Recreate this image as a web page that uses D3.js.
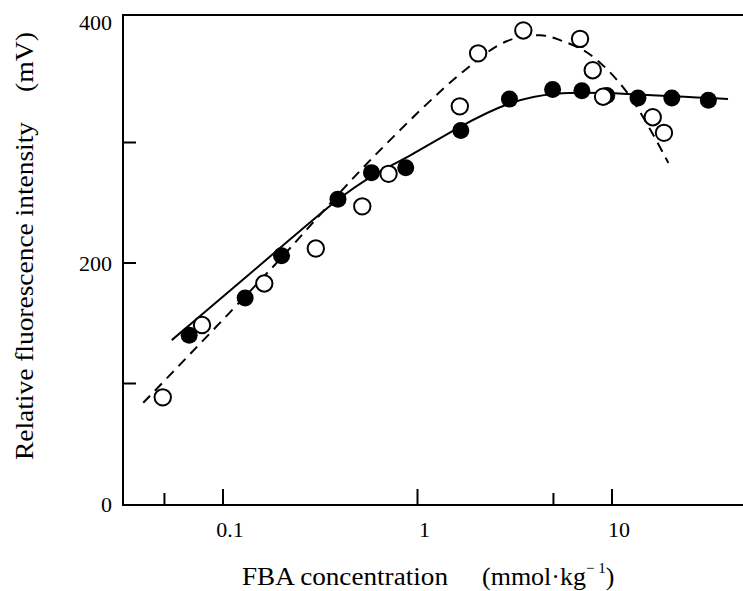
<!DOCTYPE html>
<html>
<head>
<meta charset="utf-8">
<script src="https://cdn.jsdelivr.net/npm/d3@7"></script>
<style>
  html, body { margin: 0; padding: 0; background: #fff; }
  svg { display: block; }
  text { font-family: "Liberation Serif", "Times New Roman", serif; fill: #000; }
</style>
</head>
<body>
<script>
// ---- data ----
const filledX = [0.067, 0.13, 0.20, 0.39, 0.58, 0.87, 1.67, 2.97, 4.95, 7.0, 9.4, 13.6, 20.3, 31.3];
const filledY = [140, 171, 206, 253, 275, 279, 310, 336, 344, 343, 339, 337, 337, 335];

const openX = [0.049, 0.078, 0.163, 0.30, 0.52, 0.71, 1.65, 2.05, 3.5, 6.85, 7.96, 9.0, 16.2, 18.5];
const openY = [88.5, 148.5, 183, 212, 247, 274, 330, 374, 393, 386, 360, 338, 321, 308];

// fitted curves
const solidX = [0.0545, 0.174, 0.39, 0.60, 0.9, 1.67, 2.95, 4.97, 11.0, 39.5];
const solidY = [136, 205, 254, 274, 288, 314, 334, 342, 341, 336];

const dashX = [0.0389, 0.174, 0.593, 1.72, 2.87, 4.26, 5.4, 7.7, 11.9, 19.5];
const dashY = [84, 194, 288, 359, 384, 389, 385, 373, 342, 283];

const xMajorTicks = [0.1, 1, 10];
const xMajorLabels = ["0.1", "1", "10"];
const xMinorTicks = [0.05, 5];
const yTicks = [100, 200, 300];
const yLabelValues = [0, 200, 400];
const yLabels = ["0", "200", "400"];

const xTitle = "FBA concentration";
const xUnit = "(mmol·kg";
const xUnitSup = "− 1";
const yTitle = "Relative fluorescence intensity";
const yUnit = "(mV)";

// ---- layout ----
const W = 743, H = 591;
const axisLeft = 123, axisBottom = 504, boxTop = 15, axisRight = 743;

const x = d3.scaleLog().domain([0.1, 10]).range([223, 612]);
const y = d3.scaleLinear().domain([0, 400]).range([504, 22]);

const svg = d3.select("body").append("svg").attr("width", W).attr("height", H);
svg.append("rect").attr("width", W).attr("height", H).attr("fill", "#fff");

// axes frame
const frame = svg.append("g").attr("stroke", "#000").attr("stroke-width", 2).attr("fill", "none");
frame.append("path").attr("d", `M${axisLeft},${boxTop}H${axisRight}`);
frame.append("path").attr("d", `M${axisLeft},${boxTop - 1}V${axisBottom + 1}H${axisRight}`);

// ticks
const tg = svg.append("g").attr("stroke", "#000").attr("stroke-width", 2);
tg.selectAll(".xmaj").data(xMajorTicks).join("line")
  .attr("x1", d => x(d)).attr("x2", d => x(d))
  .attr("y1", axisBottom).attr("y2", axisBottom - 15);
tg.selectAll(".xmin").data(xMinorTicks).join("line")
  .attr("x1", d => x(d)).attr("x2", d => x(d))
  .attr("y1", axisBottom).attr("y2", axisBottom - 11);
tg.selectAll(".yt").data(yTicks).join("line")
  .attr("x1", axisLeft).attr("x2", axisLeft + 13)
  .attr("y1", d => y(d)).attr("y2", d => y(d));

// tick labels
svg.selectAll(".xl").data(xMajorTicks).join("text")
  .attr("x", d => x(d) + 7).attr("y", 537)
  .attr("text-anchor", "middle").attr("font-size", 22)
  .text((d, i) => xMajorLabels[i]);
svg.selectAll(".yl").data(yLabelValues).join("text")
  .attr("x", 112).attr("y", d => y(d))
  .attr("text-anchor", "end").attr("dominant-baseline", "central")
  .attr("font-size", 22)
  .text((d, i) => yLabels[i]);

// curves
const solidData = solidX.map((v, i) => ({ x: v, y: solidY[i] }));
const dashData = dashX.map((v, i) => ({ x: v, y: dashY[i] }));
const smooth = d3.line().x(d => x(d.x)).y(d => y(d.y)).curve(d3.curveBasis);
const through = d3.line().x(d => x(d.x)).y(d => y(d.y)).curve(d3.curveCatmullRom.alpha(0.5));

svg.append("path").datum(dashData).attr("d", through)
  .attr("fill", "none").attr("stroke", "#000").attr("stroke-width", 2)
  .attr("stroke-dasharray", "10,7");
svg.append("path").datum(solidData).attr("d", smooth)
  .attr("fill", "none").attr("stroke", "#000").attr("stroke-width", 2);

// points
const filled = filledX.map((v, i) => ({ x: v, y: filledY[i] }));
const open = openX.map((v, i) => ({ x: v, y: openY[i] }));

svg.append("g").selectAll("circle").data(filled).join("circle")
  .attr("cx", d => x(d.x)).attr("cy", d => y(d.y)).attr("r", 8.5)
  .attr("fill", "#000");
svg.append("g").selectAll("circle").data(open).join("circle")
  .attr("cx", d => x(d.x)).attr("cy", d => y(d.y)).attr("r", 8.2)
  .attr("fill", "#fff").attr("stroke", "#000").attr("stroke-width", 2);

// axis titles
const xt = svg.append("text").attr("x", 242).attr("y", 585).attr("font-size", 26);
xt.append("tspan").attr("textLength", 206).attr("lengthAdjust", "spacingAndGlyphs").text(xTitle);
const xu = svg.append("text").attr("x", 482).attr("y", 585).attr("font-size", 26);
xu.append("tspan").text(xUnit);
xu.append("tspan").attr("font-size", 15).attr("dy", -12).text(xUnitSup);
xu.append("tspan").attr("dy", 12).text(")");

svg.append("text").attr("transform", "translate(33,460) rotate(-90)")
  .attr("font-size", 26).attr("textLength", 338).attr("lengthAdjust", "spacingAndGlyphs")
  .text(yTitle);
svg.append("text").attr("transform", "translate(33,92) rotate(-90)")
  .attr("font-size", 26).attr("textLength", 60).attr("lengthAdjust", "spacingAndGlyphs")
  .text(yUnit);
</script>
</body>
</html>
